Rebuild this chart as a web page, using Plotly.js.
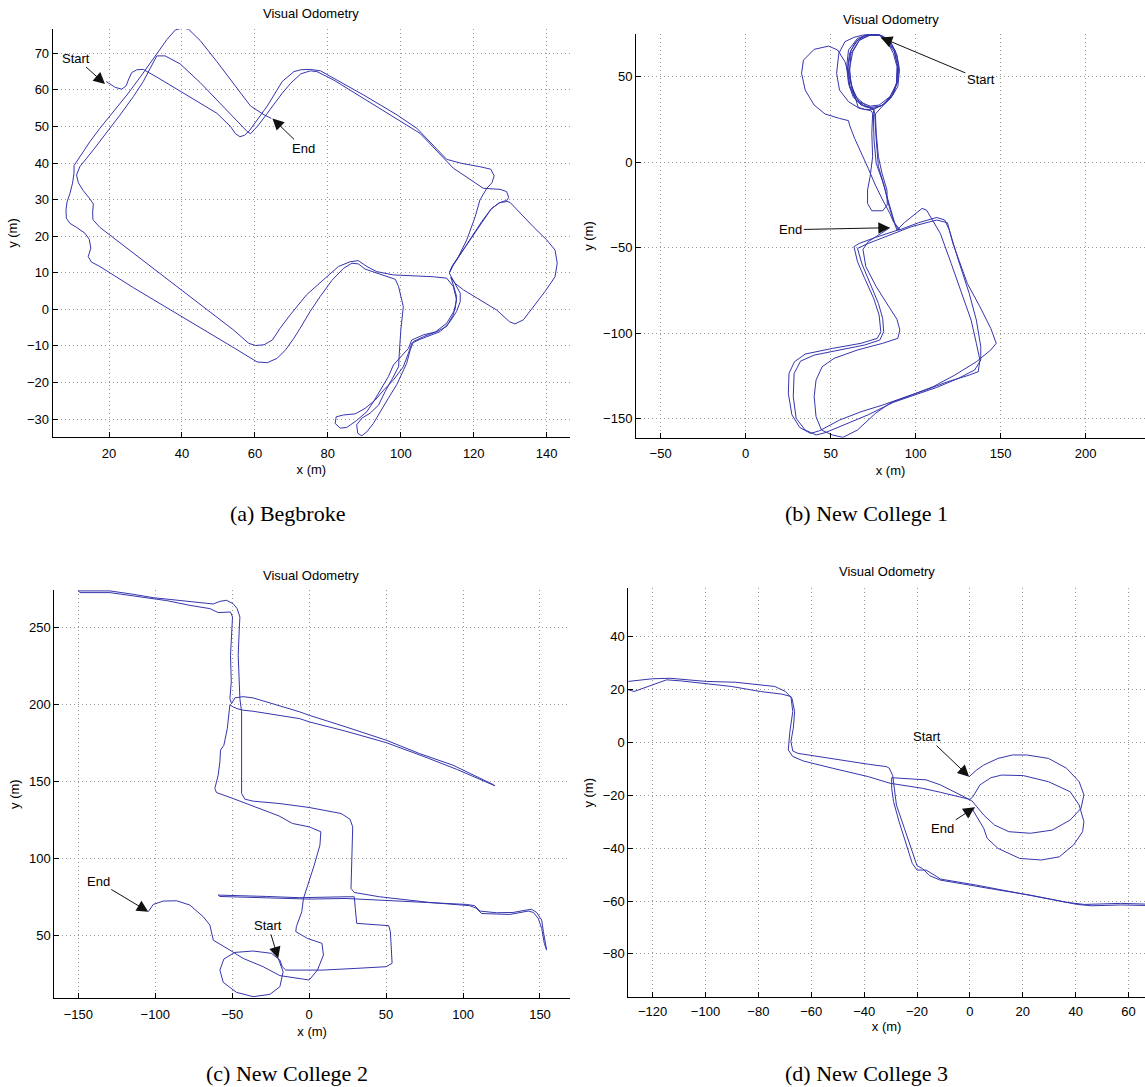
<!DOCTYPE html>
<html>
<head>
<meta charset="utf-8">
<script src="https://cdn.plot.ly/plotly-3.0.1.min.js"></script>
<style>html,body{margin:0;padding:0;background:#fff;}#chart{width:1145px;height:1087px;}</style>
</head>
<body>
<div id="chart"></div>
<script>
// ---------- data (metres) ----------
const begbrokePath = [
[19.2,62.3],[21.7,60.7],[23.5,60.2],[24.7,61.1],[25.3,62.7],[26.2,64.7],[27.6,65.5],[29.4,65.6],
[33.1,63.5],[40.0,59.3],[45.0,56.3],[49.6,53.6],[53.3,50.0],[54.7,48.0],[55.9,47.2],[57.2,47.6],
[58.6,49.0],[60.2,51.3],[63.4,55.6],[67.5,62.3],[70.7,65.0],[72.6,65.5],
[75.2,65.6],[78.0,65.2],[80.5,63.8],[89.8,58.6],[98.9,53.2],[104.4,49.5],[112.6,41.0],[116.7,39.9],[121.7,39.0],[124.7,38.3],[125.6,36.5],[125.0,34.6],[123.6,33.1],[121.7,29.9],[120.4,25.3],[118.1,19.0],[115.8,14.4],[114.0,11.7],[113.3,9.9],
[114.9,7.1],[116.3,4.4],[116.3,2.1],[115.3,-0.6],[113.5,-3.4],[110.8,-6.1],[105.3,-8.2],[103.0,-9.3],[102.1,-12.0],
[100.7,-15.7],[98.0,-19.3],[95.3,-22.1],[93.0,-24.8],[90.2,-27.1],[87.5,-28.6],[84.3,-28.9],[82.3,-29.4],[82.0,-31.2],[83.4,-32.5],[85.2,-32.3],[87.9,-30.4],[90.7,-28.0],[92.5,-25.3],[94.8,-21.6],[96.6,-18.4],[98.0,-15.2],[100.5,-12.5],[102.1,-10.7],[103.0,-8.4],[106.2,-7.0],[109.9,-6.1],[112.6,-4.7],[114.4,-1.5],[115.3,2.6],[114.4,6.2],[112.6,8.5],
[109.0,8.9],[103.5,9.1],[98.0,9.4],[93.4,10.3],[90.7,11.7],[88.4,13.3],[86.1,13.0],[82.9,11.7],
[78.8,8.0],[74.2,4.0],[69.7,-1.5],[66.9,-5.2],[64.8,-8.4],[62.5,-9.7],[60.2,-9.9],[58.3,-9.3],[54.2,-5.7],[45.0,1.4],[35.9,8.4],[26.7,15.4],[17.5,22.4],[15.6,24.5],[15.5,26.3],[15.7,28.8],[14.6,30.4],[12.9,32.5],[11.6,34.6],[11.1,36.7],[12.0,39.0],
[15.7,43.6],[19.4,48.3],[23.0,53.1],[26.7,58.2],[29.4,62.3],[31.3,65.9],[33.1,69.3],[35.4,69.3],[39.5,67.1],[45.0,62.0],[50.6,56.3],[55.1,51.6],[57.9,48.6],[58.8,48.0],
[61.0,50.4],[63.4,53.6],[67.5,59.1],[69.8,61.8],[72.6,64.4],[75.2,65.2],[77.0,65.0],
[81.6,62.7],[89.8,57.7],[98.9,52.2],[105.3,48.1],[114.4,38.6],[119.0,35.4],[122.6,33.1],[127.2,32.8],[129.0,32.2],[129.6,30.6],[128.8,29.4],[127.2,29.2],[124.9,27.6],[122.2,24.0],[119.5,19.9],[116.7,15.8],[114.4,12.1],[113.5,10.3],
[114.0,11.5],[116.5,15.3],[119.3,19.3],[122.0,23.3],[124.7,27.3],[126.8,29.0],[128.6,29.7],[130.0,29.2],[132.7,26.3],[136.3,22.6],[140.0,19.0],[142.3,16.2],[142.9,12.6],[142.3,8.9],[139.5,4.8],[136.3,0.5],[133.6,-2.9],[131.3,-4.0],[129.8,-3.4],[126.3,-0.2],[121.7,2.7],[117.2,5.3],[115.0,7.0],[113.7,8.8],
[114.4,6.7],[115.3,3.5],[114.9,0.0],[112.6,-3.8],[109.5,-6.2],[106.2,-7.5],[103.5,-8.8],[102.6,-11.1],[101.6,-14.8],[100.3,-17.5],[98.9,-20.6],[96.6,-24.3],[94.8,-27.5],[92.5,-31.2],[90.7,-33.5],[89.3,-34.6],[88.2,-33.9],[87.9,-31.6],[89.3,-29.8],[91.6,-28.4],[93.9,-26.2],[95.7,-22.5],[97.5,-19.3],[99.4,-15.7],[99.6,-12.0],
[100.0,-5.7],[100.7,0.7],[99.4,6.2],[98.5,8.2],[96.0,9.0],[93.0,10.0],[90.2,11.0],[88.4,12.4],[86.6,12.6],[84.3,11.2],[81.1,7.9],[77.9,3.5],[75.2,-0.5],[72.4,-5.2],[70.7,-7.9],[68.4,-11.1],[66.1,-13.4],[63.4,-14.6],[60.6,-14.4],
[54.2,-10.5],[45.0,-5.0],[35.9,0.5],[26.7,5.9],[17.5,11.7],[15.2,12.9],[14.3,14.4],[15.0,16.7],[14.6,19.1],[13.4,20.8],[11.1,22.4],[9.3,23.5],[8.3,24.9],[8.2,27.2],[8.5,29.4],[9.3,31.7],[10.0,34.5],[10.4,37.2],[10.4,39.3],
[12.5,42.5],[14.8,45.9],[17.5,49.5],[21.2,54.1],[24.9,58.6],[28.5,63.4],[32.2,68.6],[35.9,73.8],[38.2,76.4],[40.0,76.9],[41.8,76.6],[45.0,73.5],[49.6,67.7],[54.2,61.6],[58.8,55.6],[62.5,53.2],[64.5,52.2]
];

const newCollege1Path = [
[79.5,72.9],[83.8,69.4],[86.9,63.5],[89.0,55.8],[88.7,46.0],[85.9,39.2],[80.6,33.3],[75.3,31.4],[70.0,32.4],[64.7,36.3],[61.1,44.1],[59.8,53.8],[61.1,63.5],[64.7,70.4],[70.0,74.1],[76.3,74.7],[80.6,73.7],
[85.3,70.4],[89.0,62.6],[90.5,53.8],[89.5,44.1],[85.3,37.2],[79.5,32.7],[73.8,32.0],[67.9,33.3],[63.2,38.2],[60.5,46.0],[59.4,55.8],[60.5,65.5],[65.8,72.3],[72.1,74.7],[78.5,74.3],
[82.7,71.7],[87.4,65.5],[89.5,55.8],[89.0,46.0],[84.8,38.2],[78.5,33.3],[73.2,32.7],[66.8,35.3],[62.6,42.1],[61.1,52.8],[62.0,63.5],[66.8,71.3],[73.2,74.1],[78.5,74.1],
[70.0,74.5],[63.7,72.9],[58.4,70.4],[54.8,63.5],[53.5,51.9],[55.2,42.1],[60.5,35.3],[66.8,31.4],[73.8,30.0],
[74.7,28.5],[74.2,16.8],[74.7,3.1],[73.2,-8.6],[71.7,-16.4],[71.7,-24.2],[74.2,-28.5],[80.6,-28.5],[83.3,-25.1],[83.1,-16.4],[80.2,-6.6],[78.1,3.1],[76.8,16.8],[76.3,28.1],
[81.6,33.9],[86.5,39.2],[89.0,47.0],[89.5,55.8],[87.4,64.5],[83.1,71.0],[78.1,74.5],[72.1,74.5],[66.2,71.7],[62.0,65.5],[60.3,55.8],[61.1,45.0],[64.7,37.2],[70.0,32.7],[75.3,31.2],
[75.9,28.5],[76.8,12.9],[78.1,-2.7],[81.6,-14.4],[84.4,-26.1],[86.9,-33.9],[89.0,-39.8],
[93.3,-35.5],[103.8,-27.1],[106.4,-28.1],[111.3,-35.9],[114.5,-41.7],[120.9,-59.3],[127.2,-76.8],[132.6,-92.4],[135.7,-106.0],[137.8,-115.8],[136.8,-122.6],[131.5,-124.6],[118.7,-128.5],[106.0,-133.3],[93.3,-137.6],[80.6,-142.1],[67.9,-146.0],[55.2,-150.9],[43.5,-157.1],[38.2,-158.7],[31.8,-155.2],[27.2,-147.8],[25.1,-135.3],[25.5,-123.6],[28.7,-116.8],[35.0,-112.3],[50.9,-109.0],[67.9,-106.0],[77.4,-103.1],[79.5,-99.2],[78.5,-89.5],[75.3,-79.7],[70.0,-68.0],[65.8,-58.3],[63.7,-49.5],[66.8,-47.6],[76.3,-44.1],[86.9,-40.7],[90.7,-39.4],
[86.9,-34.9],[84.8,-30.0],[80.6,-22.2],[76.3,-13.5],[72.1,-3.7],[67.9,5.1],[64.1,13.8],[61.1,21.6],[60.5,24.2],
[55.2,25.5],[46.7,28.1],[40.3,33.3],[35.0,42.1],[32.9,51.9],[34.0,59.6],[40.3,65.9],[48.8,67.8],[54.1,65.5],[58.4,58.7],[61.5,48.0],[64.7,36.3],[66.2,32.0],[70.0,30.8],
[75.3,30.8],[82.3,34.3],[86.9,39.8],[89.7,48.0],[90.0,56.7],[88.0,65.1],[83.8,71.3],[78.5,74.7],[72.1,74.1],[66.8,71.0],[63.0,64.5],[61.1,54.8],[62.0,45.0],[65.3,37.8],[71.1,32.7],[75.3,30.4],
[75.1,28.5],[75.5,12.9],[76.8,-0.8],[80.6,-11.5],[83.8,-22.2],[85.9,-30.0],[88.0,-36.8],[90.1,-39.8],
[101.7,-35.5],[112.4,-32.4],[117.1,-33.9],[119.8,-39.8],[125.1,-57.3],[131.5,-76.8],[135.7,-92.4],[138.3,-108.0],[138.3,-115.8],[134.7,-121.6],[125.1,-126.5],[112.4,-131.8],[99.6,-136.3],[86.9,-140.5],[72.1,-147.8],[55.2,-154.8],[46.7,-158.3],[41.4,-159.6],[35.0,-156.7],[29.7,-149.9],[28.0,-137.2],[28.5,-123.6],[32.3,-116.4],[40.3,-112.9],[55.2,-109.9],[70.0,-107.0],[78.9,-104.1],[81.2,-99.2],[80.6,-91.4],[78.1,-82.7],[73.2,-71.0],[68.4,-59.6],[65.8,-50.5],[72.1,-47.6],[84.8,-42.7],[97.5,-37.8],[112.4,-33.9],[118.7,-35.5],
[121.9,-47.6],[130.4,-71.0],[137.8,-84.6],[144.2,-97.3],[147.4,-106.0],[144.2,-109.9],[135.7,-116.8],[123.0,-124.6],[110.2,-131.4],[97.5,-136.3],[84.8,-141.1],[76.3,-147.0],[65.8,-156.7],[57.3,-161.0],[50.9,-159.6],[44.6,-156.7],[41.4,-148.9],[40.3,-137.2],[41.4,-127.5],[45.0,-119.7],[52.0,-114.8],[65.8,-109.9],[80.6,-106.0],[89.5,-103.1],[90.7,-98.2],[89.0,-92.0],[83.1,-82.7],[76.8,-72.9],[70.7,-61.2],[69.0,-51.1],[72.1,-46.6],[79.5,-41.7],[84.8,-38.4]
];

const newCollege2Path = [
[-20.1,34.8],[-16.9,26.2],[-19.0,16.4],[-25.5,11.4],[-36.4,9.9],[-47.2,12.7],[-55.8,19.2],[-58.0,27.2],[-55.4,34.4],[-48.3,38.7],[-36.4,39.6],[-24.5,38.1],[-19.0,33.7],[-17.5,29.5],
[-15.2,27.2],[8.7,27.2],[30.4,28.3],[50.0,29.4],[53.9,31.6],[53.3,41.3],[52.8,52.2],[51.7,56.1],[45.7,56.5],[30.9,57.6],[30.0,67.3],[29.3,74.9],
[23.9,74.9],[0,74.3],[-6.1,74.3],[-27.7,75.1],[-49.4,75.8],[-59.1,76.0],
[-58.0,75.1],[-38.5,74.5],[-16.9,73.8],[0,73.4],[23.9,73.8],[45.7,72.8],[67.4,71.7],[89.1,70.8],[102.2,69.9],[107.6,69.1],[110.9,65.6],[121.7,64.5],[132.6,64.7],[141.3,66.3],[144.6,66.7],[147.8,64.7],[151.1,59.8],[152.2,52.2],[153.3,45.7],[154.3,40.2],
[152.8,44.6],[151.1,54.3],[148.9,60.8],[145.7,64.7],[142.4,65.6],[134.8,64.1],[130.4,63.4],[112.0,64.0],[108.5,67.5],[104.3,69.1],[78.3,71.2],[45.7,74.9],[29.3,77.7],[27.2,80.3],
[27.6,91.2],[27.8,102.0],[28.3,112.8],[28.3,120.4],[26.5,125.4],[20.7,129.1],[0,133.0],[-19.6,135.6],[-36.4,137.1],[-41.8,138.4],[-43.9,142.1],[-43.9,167.0],[-43.9,195.2],[-45.0,203.8],[-45.5,221.2],[-46.1,232.0],[-45.5,247.2],[-45.0,256.9],[-46.8,262.4],[-49.4,265.6],[-53.7,267.8],[-58.0,267.1],[-62.3,265.4],[-71.0,266.3],[-86.1,267.6],[-101.3,269.5],[-114.3,271.7],[-125.1,273.6],[-129.4,273.9],[-150.0,273.9],
[-148.9,272.8],[-129.4,272.8],[-110.0,270.2],[-92.6,267.6],[-77.5,264.5],[-64.5,262.4],[-59.1,259.8],[-54.8,260.2],[-51.1,260.2],[-49.8,256.9],[-50.2,247.2],[-51.1,232.0],[-50.6,214.7],[-51.5,203.8],
[-50.4,200.6],[-48.3,204.3],[-42.9,205.1],[-36.4,204.3],[-6.1,195.2],[0,193.0],[23.9,185.4],[50.0,176.8],[71.7,168.1],[93.5,160.5],[119.6,147.9],
[120.7,147.1],[95.7,157.9],[73.9,166.4],[50.0,175.2],[23.9,182.6],[0,188.7],[-6.1,190.8],[-36.4,195.6],[-42.9,196.3],[-46.8,197.3],[-49.4,198.4],[-51.5,199.9],
[-52.0,195.2],[-53.2,184.3],[-55.4,173.5],[-57.6,170.3],[-58.0,162.7],[-59.1,154.0],[-61.3,145.3],[-60.2,142.7],[-49.4,138.8],[-27.7,130.6],[-19.6,127.5],[-10.9,122.6],[0,120.4],[7.6,117.2],[7.0,108.5],[3.3,95.5],[-0.4,84.7],[-3.7,73.8],[-4.8,65.2],[-8.3,55.4],[-8.7,52.2],[-1.1,47.8],[8.3,44.6],[9.3,37.0],[5.4,27.2],[0,20.7],[-4.3,21.4],[-13.0,22.9],[-19.0,23.6],[-29.9,29.4],[-42.9,34.8],[-51.5,40.2],[-62.3,46.7],[-64.5,56.5],[-68.8,61.9],[-77.5,69.5],[-86.1,72.3],[-94.8,72.1],[-101.3,69.9],[-104.5,65.2]
];

const newCollege3Path = [
[-0.3,-13.0],[2.5,-10.5],[5.2,-8.6],[10.6,-6.1],[16.1,-4.8],[21.5,-4.8],[29.7,-6.1],[36.5,-9.8],[41.3,-14.9],[43.1,-19.9],[42.0,-25.0],[37.9,-29.4],[31.1,-33.2],[22.9,-34.4],[14.7,-33.8],[9.3,-31.3],[5.2,-27.5],[2.5,-24.3],[0.8,-22.2],[-3.0,-20.2],[-11.2,-16.1],[-16.6,-14.2],[-24.8,-13.6],[-29.6,-13.4],
[-29.6,-17.4],[-28.9,-22.4],[-26.8,-30.0],[-24.1,-38.8],[-21.8,-45.8],[-20.0,-48.3],[-16.6,-48.3],[-12.5,-50.8],[-11.2,-51.7],[2.5,-54.0],[16.1,-56.5],[29.7,-59.0],[36.5,-60.5],[43.3,-61.3],[56.9,-60.9],[67.5,-61.2],
[67.5,-61.7],[56.9,-61.5],[46.0,-61.8],[40.6,-61.3],[33.8,-60.0],[22.9,-57.8],[9.3,-55.6],[-4.4,-53.3],[-11.2,-52.1],[-15.3,-50.4],[-18.0,-47.7],[-20.0,-46.7],[-22.1,-40.1],[-24.8,-32.5],[-27.8,-23.7],[-28.9,-16.1],[-29.2,-12.6],[-30.5,-9.8],[-31.6,-9.2],[-38.4,-8.3],[-52.0,-6.1],[-65.0,-4.2],[-67.0,-3.3],[-67.7,0.3],[-66.8,5.3],[-66.3,11.6],[-67.3,16.6],[-69.8,19.2],[-73.8,21.1],[-82.0,21.9],[-88.8,22.7],[-99.7,23.0],[-106.5,23.6],[-113.4,24.2],[-120.2,24.0],[-129.0,23.0],[-131.0,22.8],
[-131.0,20.0],[-129.0,19.8],[-127.0,19.2],[-123.6,20.4],[-120.2,21.7],[-114.7,23.6],[-109.3,23.2],[-101.1,22.3],[-90.2,21.1],[-79.3,19.2],[-71.1,18.2],[-67.7,17.3],[-67.0,11.6],[-68.1,4.0],[-68.7,-2.9],[-67.0,-5.4],[-62.9,-7.1],[-52.0,-9.8],[-38.4,-13.0],[-30.2,-15.5],[-18.0,-17.4],[-11.2,-18.9],[0,-21.6],
[1.1,-20.6],[3.8,-16.1],[7.9,-13.4],[12.0,-12.4],[20.2,-12.6],[29.7,-14.9],[37.9,-18.7],[41.3,-23.7],[43.1,-30.0],[42.6,-33.8],[39.2,-38.8],[33.8,-43.3],[27.0,-44.5],[18.8,-43.9],[10.6,-40.1],[6.5,-36.3],[5.2,-32.5],[2.5,-28.1],[1.1,-25.6],[1.8,-24.6]
];

// tick values
const ticksAx = [20,40,60,80,100,120,140];
const ticksAy = [-30,-20,-10,0,10,20,30,40,50,60,70];
const ticksBx = [-50,0,50,100,150,200];
const ticksBy = [-150,-100,-50,0,50];
const ticksCx = [-150,-100,-50,0,50,100,150];
const ticksCy = [50,100,150,200,250];
const ticksDx = [-120,-100,-80,-60,-40,-20,0,20,40,60];
const ticksDy = [-80,-60,-40,-20,0,20,40];

// marker points (start / end) [x, y]
const markA = {start:[18.9,61.6], end:[64.8,52.2]};
const markB = {start:[79.5,72.9], end:[84.8,-38.4]};
const markC = {start:[-20.1,34.8], end:[-104.5,65.2]};
const markD = {start:[-0.3,-13.0], end:[1.8,-24.6]};

const captions = ['(a) Begbroke','(b) New College 1','(c) New College 2','(d) New College 3'];
const plotTitle = 'Visual Odometry';

// ---------- build ----------
const LINE = {color:'#3535ad', width:1};
function tr(path, xa, ya){
  return {type:'scatter', mode:'lines', x:path.map(p=>p[0]), y:path.map(p=>p[1]),
          xaxis:xa, yaxis:ya, line:LINE, hoverinfo:'skip', showlegend:false};
}
const data = [
  tr(begbrokePath,'x','y'),
  tr(newCollege1Path,'x2','y2'),
  tr(newCollege2Path,'x3','y3'),
  tr(newCollege3Path,'x4','y4')
];

const tickFont = {family:'Liberation Sans, Arial, sans-serif', size:13, color:'#000'};
function ax(extra){
  return Object.assign({
    showline:true, linecolor:'#000', linewidth:1, mirror:false,
    ticks:'inside', ticklen:5, tickwidth:1, tickcolor:'#000',
    showgrid:true, gridcolor:'#9a9a9a', griddash:'1px,3px', gridwidth:1,
    zeroline:false, tickfont:tickFont, tickmode:'array', fixedrange:true,
    automargin:false
  }, extra);
}
const xt = (t,s)=>({text:t, font:{family:'Liberation Sans, Arial, sans-serif', size:13, color:'#000'}, standoff:s});

const layout = {
  width:1145, height:1087, autosize:false,
  margin:{l:0,r:0,t:0,b:0,pad:0},
  paper_bgcolor:'#fff', plot_bgcolor:'#fff', showlegend:false,
  xaxis: ax({domain:[0.04603,0.49782], range:[4.56,146.4], anchor:'y', tickvals:ticksAx, title:xt('x (m)',5), ticklabelstandoff:4}),
  yaxis: ax({domain:[0.59798,0.97332], range:[-34.92,76.65], anchor:'x', tickvals:ticksAy, title:xt('y (m)',6)}),
  xaxis2: ax({domain:[0.55546,1], range:[-64.5,234.9], anchor:'y2', tickvals:ticksBx, title:xt('x (m)',5), ticklabelstandoff:4}),
  yaxis2: ax({domain:[0.59733,0.96845], range:[-161.2,74.7], anchor:'x2', tickvals:ticksBy, title:xt('y (m)',6)}),
  xaxis3: ax({domain:[0.04742,0.49782], range:[-165.6,169.5], anchor:'y3', tickvals:ticksCx, title:xt('x (m)',5), ticklabelstandoff:4}),
  yaxis3: ax({domain:[0.0816,0.45722], range:[8.84,274.5], anchor:'x3', tickvals:ticksCy, title:xt('y (m)',6)}),
  xaxis4: ax({domain:[0.54873,1], range:[-129.2,66.2], anchor:'y4', tickvals:ticksDx, title:xt('x (m)',0), ticklabelstandoff:2}),
  yaxis4: ax({domain:[0.08252,0.45878], range:[-96.4,58.2], anchor:'x4', tickvals:ticksDy, title:xt('y (m)',6)}),
  annotations: []
};

const labFont = {family:'Liberation Sans, Arial, sans-serif', size:13, color:'#000'};
function arrowAnn(text, pt, xr, yr, axp, ayp){
  return {text:text, x:pt[0], y:pt[1], xref:xr, yref:yr, ax:axp, ay:ayp,
          showarrow:true, arrowhead:2, arrowsize:2.3, arrowwidth:1, arrowcolor:'#111',
          font:labFont, standoff:0, startstandoff:0};
}
layout.annotations.push(
  arrowAnn('Start', markA.start, 'x','y', -29, -26),
  arrowAnn('End', markA.end, 'x','y', 31, 30),
  arrowAnn('Start', markB.start, 'x2','y2', 100, 42),
  arrowAnn('End', markB.end, 'x2','y2', -99, 2),
  arrowAnn('End', markC.end, 'x3','y3', -50, -30),
  arrowAnn('Start', markC.start, 'x3','y3', -10, -33),
  arrowAnn('Start', markD.start, 'x4','y4', -42, -40),
  arrowAnn('End', markD.end, 'x4','y4', -32, 21)
);

// subplot titles
const titlePos = [[0.2716,0.9878],[0.778,0.9825],[0.272,0.471],[0.7747,0.474]];
titlePos.forEach(p=>layout.annotations.push({text:plotTitle, x:p[0], y:p[1], xref:'paper', yref:'paper',
  xanchor:'center', yanchor:'middle', showarrow:false, font:{family:'Liberation Sans, Arial, sans-serif', size:13, color:'#000'}}));

// captions
const capPos = [[287/1145, 1-513/1087],[866.7/1145, 1-513.3/1087],[287/1145, 1-1073/1087],[866.7/1145, 1-1073/1087]];
captions.forEach((c,i)=>layout.annotations.push({text:c, x:capPos[i][0], y:capPos[i][1], xref:'paper', yref:'paper',
  xanchor:'center', yanchor:'middle', showarrow:false, font:{family:'Liberation Serif, Times New Roman, serif', size:22, color:'#000'}}));

Plotly.newPlot('chart', data, layout, {staticPlot:true, displayModeBar:false});
</script>
</body>
</html>
